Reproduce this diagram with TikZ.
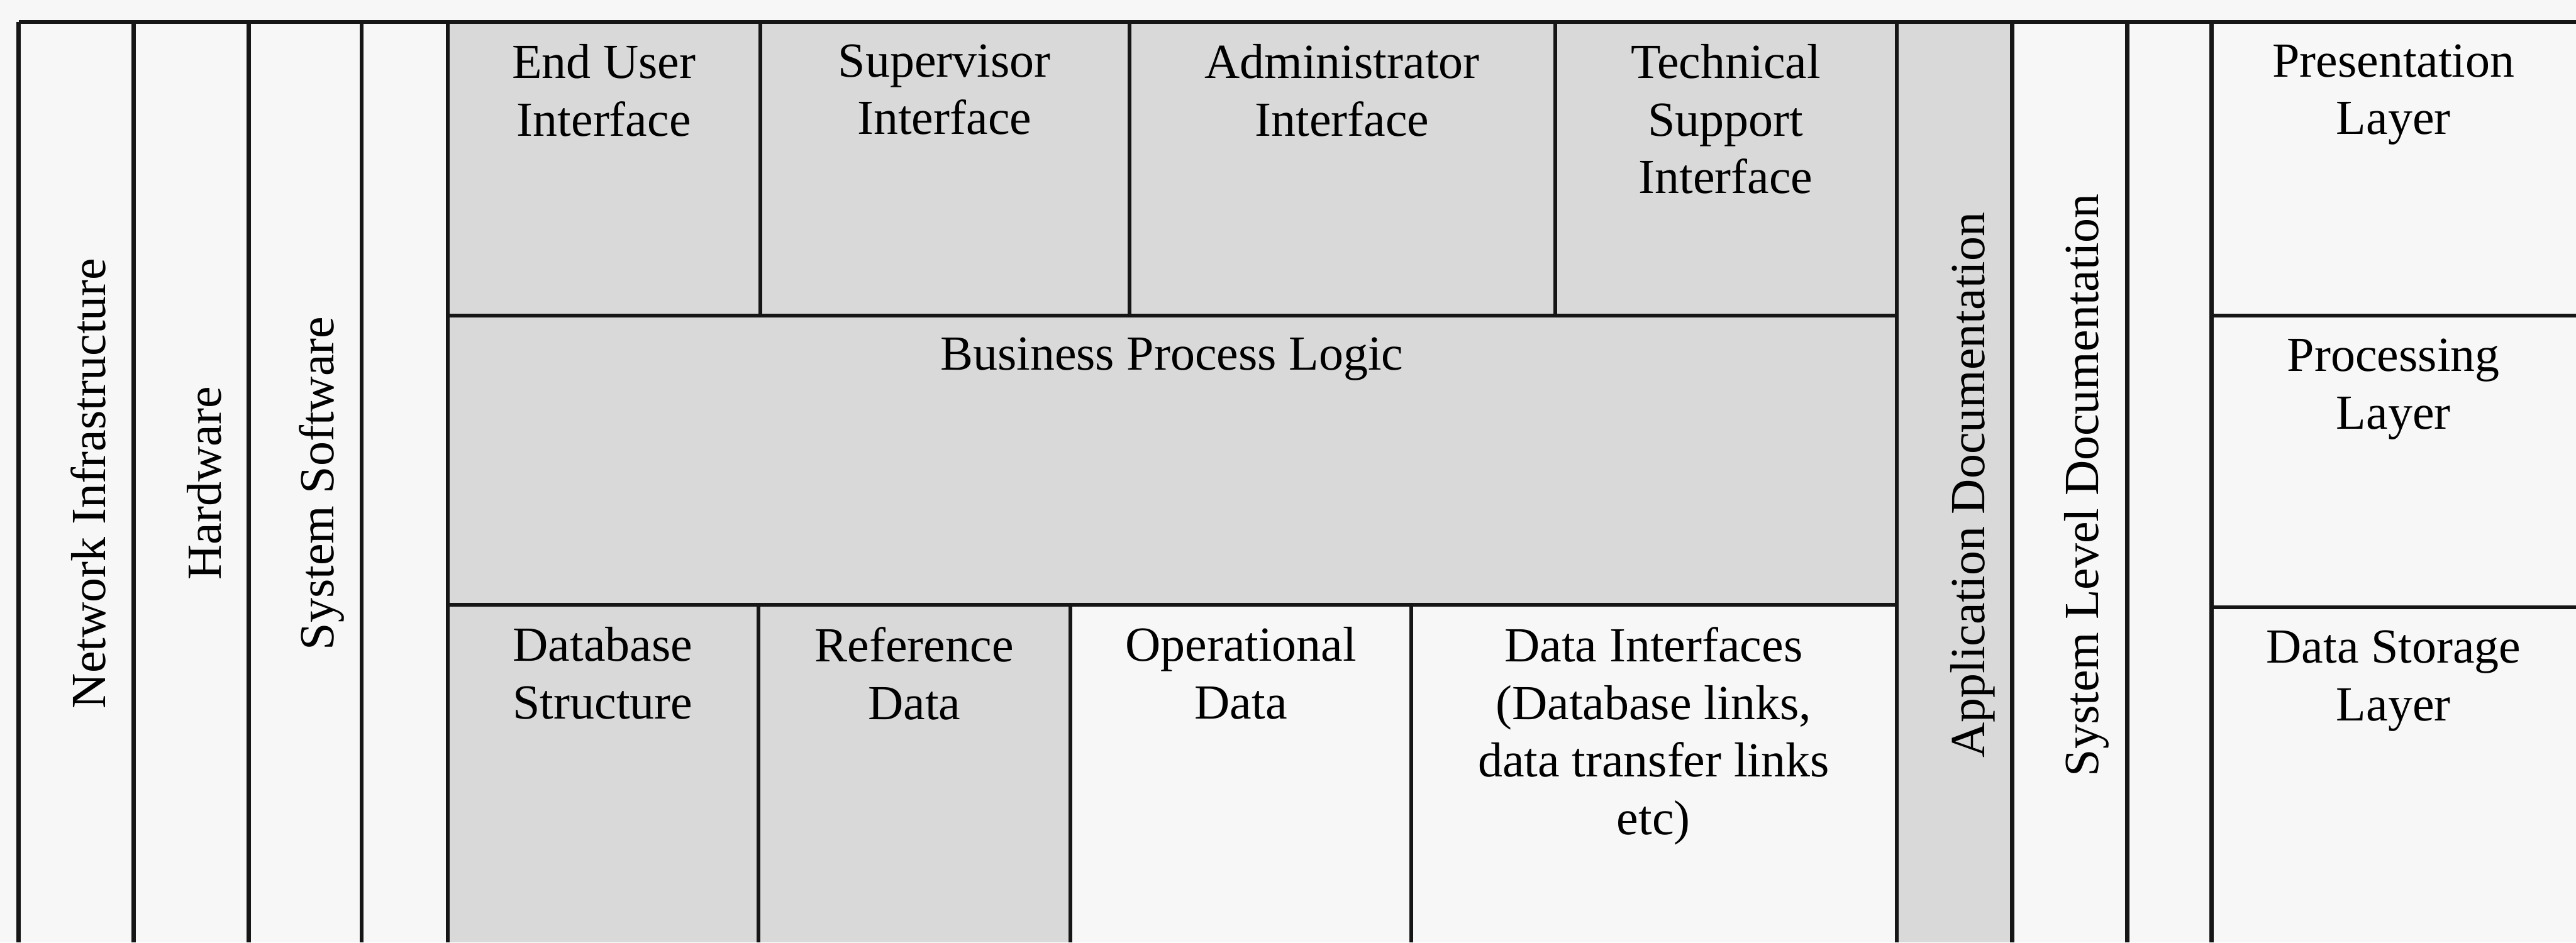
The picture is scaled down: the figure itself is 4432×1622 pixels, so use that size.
\documentclass[tikz,border=0pt]{standalone}
\usepackage{fontspec}
\setmainfont{Liberation Serif}
\definecolor{layerPaper}{HTML}{F7F7F7}
\definecolor{layerGrey}{HTML}{D9D9D9}
\definecolor{layerLine}{HTML}{161616}
\tikzset{
  layerfig/.style={
    x=0.05mm, y=-0.05mm,
    every node/.append style={font=\fontsize{12}{14.1}\selectfont, text=black},
  },
  rule/.style={draw=layerLine, line width=0.95pt},
  greycell/.style={fill=layerGrey},
  celltext/.style={anchor=north, align=center, inner sep=0pt},
  % senkrechte Beschriftung der schmalen Spalten
  sidetext/.style={anchor=base, rotate=90, inner sep=0pt},
}

\begin{document}
\begin{tikzpicture}[layerfig]
  \useasboundingbox (0,0) rectangle (4432,1622);
  \fill[layerPaper] (0,0) rectangle (4432,1622);

  % graue Felder
  \fill[greycell] (770,38) rectangle (3263,1041);
  \fill[greycell] (770,1041) rectangle (1842,1622);
  \fill[greycell] (3263,38) rectangle (3462,1622);

  % Tabellenlinien
  \draw[rule] (32,38) -- (4432,38);
  \foreach \xx in {32,230,428,622,770,3263,3462,3660,3805}
    \draw[rule] (\xx,38) -- (\xx,1622);
  \foreach \xx in {1308,1943,2676}
    \draw[rule] (\xx,38) -- (\xx,543);
  \foreach \xx in {1305,1842,2428}
    \draw[rule] (\xx,1041) -- (\xx,1622);
  \draw[rule] (770,543) -- (3263,543);
  \draw[rule] (770,1041) -- (3263,1041);
  \draw[rule] (3805,543) -- (4432,543);
  \draw[rule] (3805,1045) -- (4432,1045);

  \node[sidetext] (netinf) at (181,832) {Network Infrastructure};
  \node[sidetext] (hardware) at (380,832) {Hardware};
  \node[sidetext] (syssoft) at (574,832) {System Software};
  \node[sidetext] (appdoc) at (3414,835) {Application Documentation};
  \node[sidetext] (sysdoc) at (3610,835) {System Level Documentation};

  \node[celltext] (enduser) at (1039,75) {End User\\Interface};
  \node[celltext] (supervisor) at (1625,75) {Supervisor\\Interface};
  \node[celltext] (admin) at (2309,75) {Administrator\\Interface};
  \node[celltext] (techsupport) at (2969,75) {Technical\\Support\\Interface};
  \node[celltext] (bpl) at (2016,580) {Business Process Logic};
  \node[celltext] (dbstruct) at (1037,1078) {Database\\Structure};
  \node[celltext] (refdata) at (1573,1078) {Reference\\Data};
  \node[celltext] (opdata) at (2135,1078) {Operational\\Data};
  \node[celltext] (datainterfaces) at (2845,1078)
    {Data Interfaces\\(Database links,\\data transfer links\\etc)};

  \node[celltext] (presentation) at (4118,75) {Presentation\\Layer};
  \node[celltext] (processing) at (4118,582) {Processing\\Layer};
  \node[celltext] (datastorage) at (4118,1084) {Data Storage\\Layer};
\end{tikzpicture}
\end{document}
